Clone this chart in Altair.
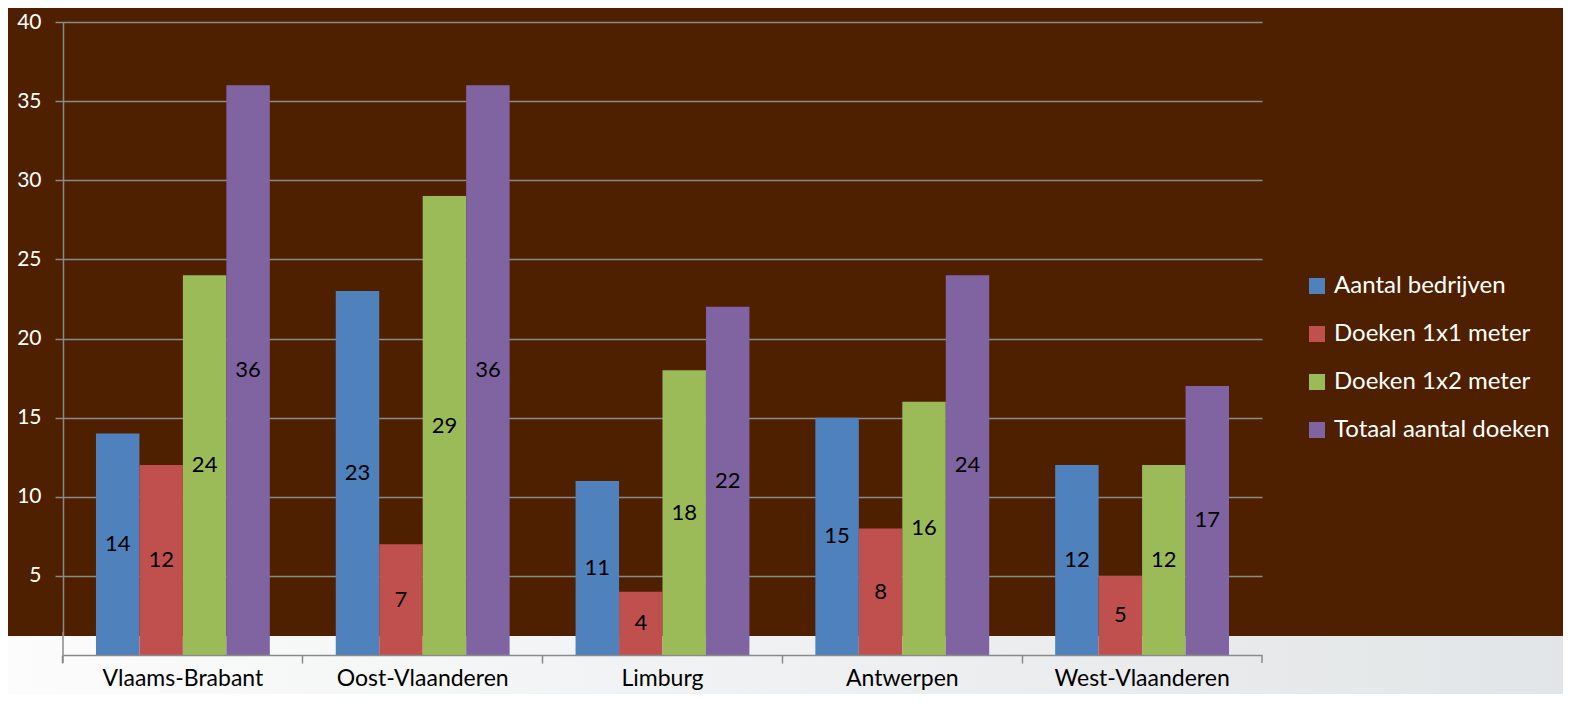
import altair as alt
import pandas as pd

regions = ["Vlaams-Brabant", "Oost-Vlaanderen", "Limburg", "Antwerpen", "West-Vlaanderen"]
series = ["Aantal bedrijven", "Doeken 1x1 meter", "Doeken 1x2 meter", "Totaal aantal doeken"]
aantal_bedrijven = [14, 23, 11, 15, 12]
doeken_1x1 = [12, 7, 4, 8, 5]
doeken_1x2 = [24, 29, 18, 16, 12]
totaal_doeken = [36, 36, 22, 24, 17]
colors = ["#4F81BD", "#C0504D", "#9BBB59", "#8064A2"]

rows = []
for s, vals in zip(series, [aantal_bedrijven, doeken_1x1, doeken_1x2, totaal_doeken]):
    for r, v in zip(regions, vals):
        rows.append({"regio": r, "reeks": s, "waarde": v})
df = pd.DataFrame(rows)

FONT = "Lato"
BROWN = "#4E2000"
GRAY = "#8a8a8a"

x_enc = alt.X("regio:N", sort=regions, title=None,
              scale=alt.Scale(paddingInner=0.275, paddingOuter=0.1375),
              axis=alt.Axis(labelAngle=0, labelColor="black", labelFontSize=23, labelFont=FONT,
                            domainColor=GRAY, domainWidth=1.5, tickColor=GRAY,
                            tickWidth=1.5, tickSize=8, bandPosition=-0.19, labelPadding=4,
                            labelBaseline="top", grid=False, zindex=1))
y_enc = alt.Y("waarde:Q", title=None,
              scale=alt.Scale(domain=[0, 40], nice=False),
              axis=alt.Axis(values=list(range(0, 41, 5)), labelColor="white", labelFontSize=21,
                            labelFont=FONT, domainColor=GRAY, domainWidth=1.5,
                            tickColor=GRAY, tickWidth=1.5, tickSize=8, labelPadding=14,
                            grid=True, gridColor=GRAY, gridWidth=1.5))

light = alt.Chart(pd.DataFrame({"a": [0]})).mark_rect(
    color=alt.LinearGradient(gradient="linear",
                             stops=[alt.GradientStop(color="#FCFCFC", offset=0),
                                    alt.GradientStop(color="#E2E5E7", offset=1)],
                             x1=0, x2=1, y1=0, y2=0)
).encode(x=alt.value(-70), x2=alt.value(1510), y=alt.value(614), y2=alt.value(700))

# axis line segment that runs over the light band, and the closing tick
yline = alt.Chart(pd.DataFrame({"a": [0]})).mark_rule(color=GRAY, strokeWidth=1.5).encode(
    x=alt.value(0), y=alt.value(610), y2=alt.value(641))
lasttick = alt.Chart(pd.DataFrame({"a": [0]})).mark_rule(color=GRAY, strokeWidth=1.5).encode(
    x=alt.value(1199), y=alt.value(633), y2=alt.value(641))

bars = alt.Chart(df).mark_bar().encode(
    x=x_enc,
    xOffset=alt.XOffset("reeks:N", sort=series),
    y=y_enc,
    color=alt.Color("reeks:N", sort=series,
                    scale=alt.Scale(domain=series, range=colors),
                    legend=alt.Legend(title=None, orient="none", legendX=1242, legendY=252,
                                      labelColor="white", labelFontSize=24, labelFont=FONT,
                                      labelLimit=400,
                                      symbolType="square", symbolSize=256, symbolStrokeWidth=0,
                                      rowPadding=24, labelOffset=5)),
)

labels = alt.Chart(df).transform_calculate(mid="datum.waarde / 2").mark_text(
    fontSize=22, font=FONT, color="black"
).encode(
    x=alt.X("regio:N", sort=regions),
    xOffset=alt.XOffset("reeks:N", sort=series),
    y=alt.Y("mid:Q"),
    text="waarde:Q",
)

chart = alt.layer(light, bars, yline, lasttick, labels).properties(
    width=1199, height=633, background=BROWN,
    padding={"left": 55, "top": 14, "right": 301, "bottom": 39},
    autosize=alt.AutoSizeParams(type="none"),
).configure_view(stroke=None)

chart.save("out.html", embed_options={"renderer": "svg", "actions": False})
